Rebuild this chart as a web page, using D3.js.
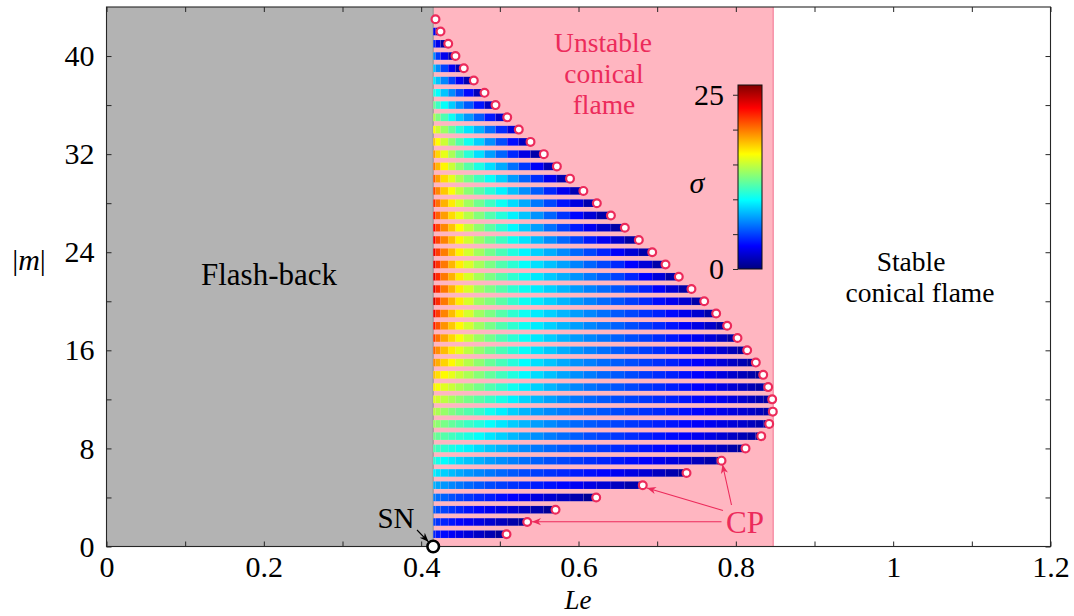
<!DOCTYPE html>
<html><head><meta charset="utf-8">
<script src="https://cdn.jsdelivr.net/npm/d3@7"></script>
<style>body{margin:0;background:#fff}svg{display:block}</style>
</head><body>
<svg id="chart" width="1074" height="616"></svg>
<script>
// ---------------- data ----------------
const modes = [1,2,3,4,5,6,7,8,9,10,11,12,13,14,15,16,17,18,19,20,21,22,23,24,25,26,27,28,29,30,31,32,33,34,35,36,37,38,39,40,41,42,43];
// Le of the CP point (end of each bar), index = m-1
const cpLe = [0.5085,0.5348,0.5708,0.6225,0.6817,0.7373,0.7818,0.8123,0.8323,0.8424,
  0.8470,0.8462,0.8411,0.8348,0.8254,0.8144,0.8021,0.7890,0.7750,0.7598,
  0.7436,0.7275,0.7106,0.6937,0.6767,0.6589,0.6412,0.6233,0.6062,0.5892,
  0.5725,0.5559,0.5390,0.5241,0.5094,0.4945,0.4805,0.4669,0.4542,0.4436,
  0.4344,0.4246,0.4182];
// growth rate sigma in each cell of each bar, left to right, index = m-1
const sigmaByMode = [
 [4.3,3.9,3.5,3.1,2.7,2.3,1.8,1.3,0.7],
 [5,4.6,4.2,3.8,3.4,3,2.6,2.1,1.6,1.1,0.6],
 [5.8,5.4,5,4.6,4.2,3.8,3.4,3,2.6,2.2,1.7,1.2,0.6],
 [6.6,6.2,5.8,5.4,5,4.7,4.3,4,3.6,3.3,2.9,2.5,2.1,1.7,1.2,0.6],
 [8,7.6,7.2,6.8,6.4,6,5.6,5.2,4.9,4.6,4.3,4,3.7,3.4,3,2.6,2.2,1.7,1.2,0.6],
 [9.7,9.2,8.7,8.2,7.7,7.2,6.8,6.4,6,5.6,5.2,4.9,4.6,4.3,4,3.7,3.4,3,2.6,2.2,1.7,1.2,0.6],
 [10.9,10.4,9.9,9.4,8.9,8.4,7.9,7.4,7,6.6,6.2,5.8,5.4,5.1,4.8,4.5,4.2,3.9,3.6,3.3,2.9,2.5,2.1,1.6,1.1,0.6],
 [11.9,11.5,11.1,10.6,10.1,9.6,9,8.4,7.9,7.4,6.9,6.4,6,5.6,5.3,5,4.7,4.4,4.1,3.8,3.5,3.2,2.8,2.4,2,1.6,1.1,0.6],
 [12.9,12.5,12.1,11.6,11.1,10.6,10,9.3,8.7,8.1,7.5,7,6.5,6.1,5.7,5.3,5,4.7,4.4,4.1,3.8,3.5,3.2,2.9,2.6,2.2,1.8,1.4,1,0.5],
 [13.9,13.5,13,12.5,12,11.4,10.8,10,9.3,8.6,8,7.4,6.9,6.4,6,5.6,5.3,5,4.7,4.4,4.1,3.8,3.5,3.2,2.9,2.6,2.3,2,1.6,1.2,0.8,0.5],
 [14.8,14.3,13.8,13.2,12.6,12,11.3,10.3,9.5,8.7,8,7.4,6.9,6.5,6.1,5.8,5.5,5.2,4.9,4.6,4.3,4,3.7,3.4,3.1,2.8,2.5,2.2,1.9,1.5,1.1,0.8,0.5],
 [15.8,15.3,14.8,14.2,13.6,12.9,12.2,11.4,10.5,9.6,8.8,8.1,7.5,6.9,6.4,6,5.6,5.3,5,4.7,4.4,4.1,3.8,3.5,3.2,2.9,2.5,2.1,1.7,1.3,0.9,0.5],
 [16.8,16.3,15.7,15.1,14.4,13.7,12.9,12,11.2,10.3,9.5,8.7,8,7.4,6.8,6.3,5.9,5.5,5.1,4.7,4.4,4,3.7,3.3,3,2.6,2.2,1.8,1.4,1,0.6],
 [18,17.3,16.6,15.9,15.1,14.3,13.4,12.5,11.6,10.7,9.8,9,8.3,7.6,7,6.5,6,5.6,5.2,4.8,4.4,4.1,3.7,3.3,2.9,2.5,2,1.5,1.1,0.6],
 [19.5,18.6,17.6,16.6,15.6,14.6,13.6,12.6,11.7,10.8,9.9,9.1,8.4,7.7,7.1,6.6,6.1,5.7,5.3,4.9,4.5,4.1,3.7,3.3,2.8,2.3,1.8,1.3,0.7],
 [20.5,19.4,18.2,17,15.9,14.8,13.7,12.7,11.8,10.9,10,9.2,8.5,7.8,7.2,6.7,6.2,5.7,5.3,4.9,4.5,4,3.6,3.1,2.6,2.1,1.5,0.8],
 [21.5,20.2,18.8,17.5,16.3,15.1,13.9,12.9,11.9,11,10.1,9.3,8.6,7.9,7.3,6.8,6.3,5.8,5.3,4.9,4.4,3.9,3.4,2.9,2.3,1.7,0.9],
 [22.5,21,19.3,17.9,16.6,15.3,14,13,12,11.1,10.2,9.4,8.7,8,7.4,6.8,6.3,5.8,5.3,4.8,4.3,3.8,3.2,2.6,1.9,1],
 [23.5,21.6,19.7,18.2,16.8,15.4,14,13.1,12.1,11.1,10.2,9.4,8.7,8,7.4,6.8,6.2,5.6,5.1,4.6,4.1,3.5,2.8,2.1,1.1],
 [24.3,22,20,18.5,17,15.5,14,13.2,12.2,11.2,10.2,9.4,8.7,8,7.3,6.7,6.1,5.5,4.9,4.3,3.6,2.9,2.1,1.1],
 [24,22,20,18.5,17,15.5,14.1,13.1,12.1,11.1,10.2,9.4,8.7,8,7.3,6.7,6.1,5.5,4.8,4.1,3.2,2.2,1.1],
 [24,22,20,18.5,17,15.5,14.2,13.1,12.1,11.1,10.2,9.3,8.5,7.8,7.1,6.4,5.7,5,4.2,3.3,2.3,1.1],
 [23.8,21.8,20,18.4,16.9,15.5,14.2,13.1,12,11,10,9.1,8.3,7.5,6.7,5.9,5.1,4.3,3.3,2.3,1.1],
 [23.6,21.6,19.9,18.3,16.8,15.4,14.1,12.9,11.8,10.7,9.7,8.7,7.8,6.9,6,5.1,4.2,3.2,2.2,1.1],
 [23.3,21.3,19.7,18.2,16.7,15.3,13.9,12.7,11.5,10.3,9.2,8.1,7,6,5,4,3,2,1],
 [23,21.3,19.6,18,16.5,15,13.6,12.3,11,9.8,8.6,7.4,6.2,5,3.9,2.9,1.9,1],
 [22.5,20.6,19,17.4,16,14.6,13.3,12,10.8,9.6,8.4,7.1,5.9,4.6,3.4,2.2,1.1],
 [22,20.2,18.5,17,15.5,14.1,12.8,11.5,10.2,9,7.7,6.4,5.1,3.8,2.5,1.2],
 [21.3,19.6,17.9,16.4,14.9,13.5,12.2,10.9,9.6,8.3,7,5.7,4.3,2.9,1.4],
 [20.7,19,17.4,15.8,14.3,12.9,11.5,10.1,8.7,7.3,5.9,4.4,2.9,1.3],
 [20,18.3,16.7,15.1,13.6,12.1,10.6,9.1,7.7,6.2,4.7,3.1,1.4],
 [19.1,17.5,15.9,14.3,12.6,10.9,9.1,7.4,5.9,4.3,2.6,1.1],
 [17.8,16.5,15.2,13.6,12,10.3,8.7,7,5.3,3.6,1.7],
 [16.5,15.2,13.9,12.5,10.9,9.3,7.9,6.2,4.4,2.3],
 [14.5,13.2,11.9,10.2,8.6,7.2,5.6,3.9,2],
 [12.6,11.4,10,8.6,7.1,5.6,3.8,1.8],
 [10.8,9.9,8.4,6.9,5.2,3.5,1.5],
 [9.5,8.4,6.8,5,3,1.3],
 [8.5,7,5,3,1.3],
 [7,4.8,2.8,1.2],
 [4.5,2.8,1],
 [3,1],
 [1.5]
];
const leSN = 0.4153;          // saddle-node (flash-back limit)
const leStableLimit = 0.8475; // right edge of unstable region
const xTickValues = [0,0.1,0.2,0.3,0.4,0.5,0.6,0.7,0.8,0.9,1,1.1,1.2];
const xTickLabels = ["0","","0.2","","0.4","","0.6","","0.8","","1","","1.2"];
const yTickValues = [0,4,8,12,16,20,24,28,32,36,40];
const yTickLabels = ["0","","8","","16","","24","","32","","40"];
const cbTickValues = [0,5,10,15,20,25];
const cbTickLabels = ["0","","","","","25"];
const sigmaLimits = [0, 26.4];

// ---------------- drawing ----------------
const svg = d3.select("#chart");
const FONT = "'Liberation Serif','Times New Roman',serif";
const RED = "#ec2b5b";
const x = d3.scaleLinear().domain([0, 1.2]).range([106.5, 1050.5]);
const y = d3.scaleLinear().domain([0, 44]).range([546.5, 7]);
const jetF = [0, 0.125, 0.375, 0.625, 0.875, 1];
const jetC = ["#000080", "#0000ff", "#00ffff", "#ffff00", "#ff0000", "#800000"];
const color = d3.scaleLinear()
  .domain(jetF.map(f => sigmaLimits[0] + f * (sigmaLimits[1] - sigmaLimits[0])))
  .range(jetC).interpolate(d3.interpolateRgb).clamp(true);

const [X0, X1] = x.range(), [Y0, Y1] = y.range();

// regions
svg.append("rect").attr("x", X0).attr("y", Y1).attr("width", x(leSN) - X0).attr("height", Y0 - Y1).attr("fill", "#b3b3b3");
svg.append("rect").attr("x", x(leSN)).attr("y", Y1).attr("width", x(leStableLimit) - x(leSN)).attr("height", Y0 - Y1).attr("fill", "#ffb6c1");
svg.append("line").attr("x1", x(leStableLimit)).attr("x2", x(leStableLimit)).attr("y1", Y1).attr("y2", Y0).attr("stroke", "#f2708f").attr("stroke-width", 1);
svg.append("line").attr("x1", x(leSN)).attr("x2", x(leSN)).attr("y1", Y1).attr("y2", Y0).attr("stroke", "#8f8f8f").attr("stroke-width", 1);

// cells
const barH = 0.62;
const cells = [];
modes.forEach((m, i) => {
  const cp = cpLe[i];
  const inner = cpLe.filter((c, j) => modes[j] > m && c < cp).sort(d3.ascending);
  const edges = [leSN, ...inner, cp];
  const sig = sigmaByMode[i];
  for (let k = 0; k < edges.length - 1; k++) {
    if (sig[k] === undefined) continue;
    cells.push({ m, a: edges[k], b: edges[k + 1], s: sig[k] });
  }
});
svg.append("g").selectAll("rect").data(cells).join("rect")
  .attr("x", d => x(d.a)).attr("width", d => x(d.b) - x(d.a))
  .attr("y", d => y(d.m + barH / 2)).attr("height", d => y(d.m - barH / 2) - y(d.m + barH / 2))
  .attr("fill", d => color(d.s))
  .attr("stroke", "rgba(255,255,255,0.16)").attr("stroke-width", 0.5);

// axes
function styleAxis(g) {
  g.select(".domain").remove();
  g.selectAll("line").attr("stroke", "#262626");
  g.selectAll("text").attr("font-family", FONT).attr("font-size", 30).attr("fill", "#000");
}
svg.append("g").attr("transform", `translate(0,${Y0})`)
  .call(d3.axisBottom(x).tickValues(xTickValues).tickFormat((d, i) => xTickLabels[i]).tickSizeInner(-5).tickSizeOuter(0).tickPadding(9))
  .call(styleAxis);
svg.append("g").attr("transform", `translate(0,${Y1})`)
  .call(d3.axisTop(x).tickValues(xTickValues).tickFormat("").tickSizeInner(-5).tickSizeOuter(0))
  .call(styleAxis);
svg.append("g").attr("transform", `translate(${X0},0)`)
  .call(d3.axisLeft(y).tickValues(yTickValues).tickFormat((d, i) => yTickLabels[i]).tickSizeInner(-5).tickSizeOuter(0).tickPadding(12))
  .call(styleAxis);
svg.append("g").attr("transform", `translate(${X1},0)`)
  .call(d3.axisRight(y).tickValues(yTickValues).tickFormat("").tickSizeInner(-5).tickSizeOuter(0))
  .call(styleAxis);
svg.append("rect").attr("x", X0).attr("y", Y1).attr("width", X1 - X0).attr("height", Y0 - Y1)
  .attr("fill", "none").attr("stroke", "#262626").attr("stroke-width", 1.1);

// arrows
const defs = svg.append("defs");
function marker(id, col) {
  defs.append("marker").attr("id", id).attr("viewBox", "0 0 10 10").attr("refX", 10).attr("refY", 5)
    .attr("markerWidth", 9).attr("markerHeight", 9).attr("markerUnits", "userSpaceOnUse").attr("orient", "auto")
    .append("path").attr("d", "M0,1 L10,5 L0,9 L3,5 Z").attr("fill", col);
}
marker("headRed", RED); marker("headBlack", "#000");
const arrows = [
  { from: [721.5, 521.7], to: [532, 521.7], c: RED, h: "headRed" },
  { from: [723, 510.5], to: [647, 488], c: RED, h: "headRed" },
  { from: [731.5, 505], to: [722.5, 464.5], c: RED, h: "headRed" },
  { from: [417, 530], to: [428.5, 541.8], c: "#000", h: "headBlack" }
];
svg.append("g").selectAll("line").data(arrows).join("line")
  .attr("x1", d => d.from[0]).attr("y1", d => d.from[1]).attr("x2", d => d.to[0]).attr("y2", d => d.to[1])
  .attr("stroke", d => d.c).attr("stroke-width", 1.1).attr("marker-end", d => `url(#${d.h})`);

// CP points
svg.append("g").selectAll("circle").data(modes).join("circle")
  .attr("cx", (m, i) => x(cpLe[i])).attr("cy", m => y(m)).attr("r", 3.9)
  .attr("fill", "#fff").attr("stroke", RED).attr("stroke-width", 2.2);
// SN point
svg.append("circle").attr("cx", x(leSN)).attr("cy", y(0)).attr("r", 5.8)
  .attr("fill", "#fff").attr("stroke", "#000").attr("stroke-width", 2.6);

// colorbar
const cb = { x: 738, w: 24 };
const cy = d3.scaleLinear().domain(sigmaLimits).range([269, 85]);
const grad = defs.append("linearGradient").attr("id", "jet").attr("x1", 0).attr("y1", 1).attr("x2", 0).attr("y2", 0);
jetF.forEach((f, i) => grad.append("stop").attr("offset", f).attr("stop-color", jetC[i]));
svg.append("rect").attr("x", cb.x).attr("y", cy.range()[1]).attr("width", cb.w).attr("height", cy.range()[0] - cy.range()[1])
  .attr("fill", "url(#jet)").attr("stroke", "#111").attr("stroke-width", 1);
svg.append("g").attr("transform", `translate(${cb.x},0)`)
  .call(d3.axisLeft(cy).tickValues(cbTickValues).tickFormat((d, i) => cbTickLabels[i]).tickSizeInner(5).tickSizeOuter(0).tickPadding(9))
  .call(styleAxis);

// texts
function txt(s, px, py, opts = {}) {
  const t = svg.append("text").attr("x", px).attr("y", py).attr("text-anchor", opts.anchor || "middle")
    .attr("font-family", FONT).attr("font-size", opts.size || 30).attr("fill", opts.fill || "#000");
  if (opts.italic) t.attr("font-style", "italic");
  t.text(s);
  return t;
}
txt("Flash-back", 269, 285, { size: 31 });
txt("Unstable", 603, 52, { fill: RED, size: 27.5 });
txt("conical", 604, 83, { fill: RED, size: 27.5 });
txt("flame", 604, 114, { fill: RED, size: 27.5 });
txt("Stable", 911, 271, { size: 27.5 });
txt("conical flame", 920, 302, { size: 27.5 });
txt("SN", 396, 528, { size: 29 });
txt("CP", 745, 533, { fill: RED, size: 31 });
txt("σ", 697, 193, { italic: true });
txt("Le", 578, 609, { italic: true, size: 27 });
const ml = svg.append("text").attr("x", 29).attr("y", 270).attr("text-anchor", "middle")
  .attr("font-family", FONT).attr("font-size", 30).attr("fill", "#000");
ml.append("tspan").text("|");
ml.append("tspan").attr("font-style", "italic").text("m");
ml.append("tspan").text("|");
</script>
</body></html>
